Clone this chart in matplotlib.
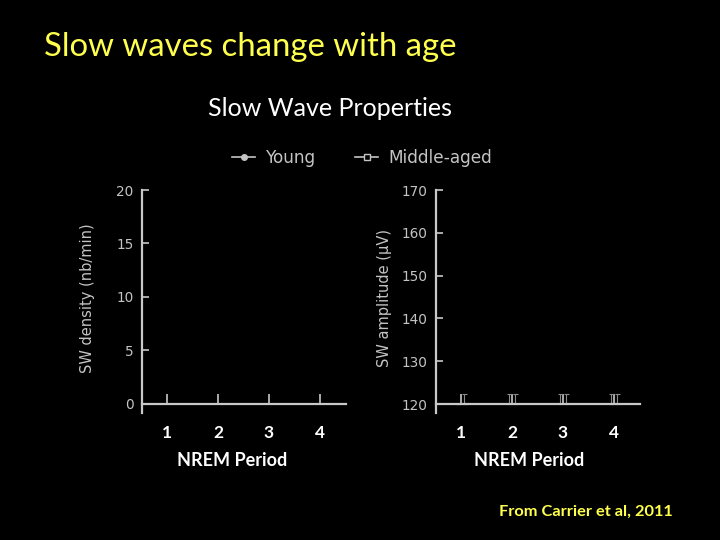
import matplotlib.pyplot as plt
from matplotlib.lines import Line2D

# NREM periods
periods = [1, 2, 3, 4]
period_labels = ["1", "2", "3", "4"]

# the plotted series are not visible in the slide; only the upper error caps
# of the amplitude panel show just above the floor of the axis
amp_young = [120, 120, 120, 120]
amp_young_err = [0.0, 2.3, 2.3, 2.3]
amp_middle = [120, 120, 120, 120]
amp_middle_err = [2.3, 2.3, 2.3, 2.3]

density_ticks = [0, 5, 10, 15, 20]
amplitude_ticks = [120, 130, 140, 150, 160, 170]

BG = "black"
AXC = "#c8c8c8"
TXT = "#c4c4c4"
YELLOW = "#ffff4d"
FONT = "Lato"

fig = plt.figure(figsize=(7.2, 5.4), dpi=100, facecolor=BG)

fig.text(44 / 720, 1 - 47 / 540, "Slow waves change with age", color=YELLOW,
         fontsize=23.7, family=FONT, ha="left", va="center")
fig.text(330 / 720, 1 - 108 / 540, "Slow Wave Properties", color="white",
         fontsize=18, family=FONT, ha="center", va="center")
fig.text(586 / 720, 1 - 512 / 540, "From Carrier et al, 2011", color=YELLOW,
         fontsize=11.8, family=FONT, weight="bold", ha="center", va="center")


def style_axes(ax, ticks, ylim, ylabel, label_x, xlabel_cx):
    ax.set_facecolor(BG)
    ax.set_xlim(0.5, 4.52)
    ax.set_ylim(*ylim)
    for s in ["top", "right"]:
        ax.spines[s].set_visible(False)
    ax.spines["bottom"].set_position(("data", ticks[0]))
    ax.spines["left"].set_bounds(ylim[0], ticks[-1])
    for s in ["left", "bottom"]:
        ax.spines[s].set_color(AXC)
        ax.spines[s].set_linewidth(1.6)
    ax.set_yticks(ticks)
    ax.set_yticklabels([str(t) for t in ticks], family="DejaVu Sans",
                       fontsize=9.8, color=TXT)
    ax.tick_params(axis="y", direction="in", length=5, width=1.2, color=AXC, pad=6)
    ax.set_xticks(periods)
    ax.set_xticklabels(period_labels, family=FONT, fontsize=12.5,
                       weight="bold", color="white")
    ax.tick_params(axis="x", direction="in", length=7, width=1.2, color=AXC, pad=15)
    ax.set_ylabel(ylabel, family="DejaVu Sans", fontsize=10.5, color=TXT)
    ax.yaxis.set_label_coords(label_x, 0.515)
    fig.text(xlabel_cx / 720, 1 - 461 / 540, "NREM Period", family=FONT,
             fontsize=13, weight="bold", color="white", ha="center", va="center")


ax1 = fig.add_axes([142 / 720, 1 - 413 / 540, 204 / 720, 223 / 540])
style_axes(ax1, density_ticks, (-0.85, 20), "SW density (nb/min)", -0.23, 232)

ax2 = fig.add_axes([436 / 720, 1 - 413 / 540, 204 / 720, 223 / 540])
style_axes(ax2, amplitude_ticks, (117.9, 170), "SW amplitude (\u00b5V)", -0.215, 529)

off = 0.06
ax2.errorbar([p - off for p in periods], amp_young,
             yerr=[[0] * 4, amp_young_err], fmt="none", ecolor="#8a8a8a",
             elinewidth=0.8, capsize=1.8, capthick=0.8)
ax2.errorbar([p + off for p in periods], amp_middle,
             yerr=[[0] * 4, amp_middle_err], fmt="none", ecolor="#8a8a8a",
             elinewidth=0.8, capsize=1.8, capthick=0.8)

handles = [
    Line2D([], [], color=TXT, lw=1.2, marker="o", markersize=4,
           markerfacecolor=TXT, markeredgecolor=TXT),
    Line2D([], [], color=TXT, lw=1.2, marker="s", markersize=5,
           markerfacecolor=BG, markeredgecolor=TXT),
]
leg = fig.legend(handles, ["Young", "Middle-aged"], loc="center",
                 bbox_to_anchor=(362 / 720, 1 - 158 / 540), ncol=2,
                 frameon=False, handlelength=1.4, handletextpad=0.6,
                 columnspacing=2.3,
                 prop={"family": "DejaVu Sans", "size": 12.2})
for t in leg.get_texts():
    t.set_color(TXT)

fig.savefig("out.png", dpi=100, facecolor=BG)
